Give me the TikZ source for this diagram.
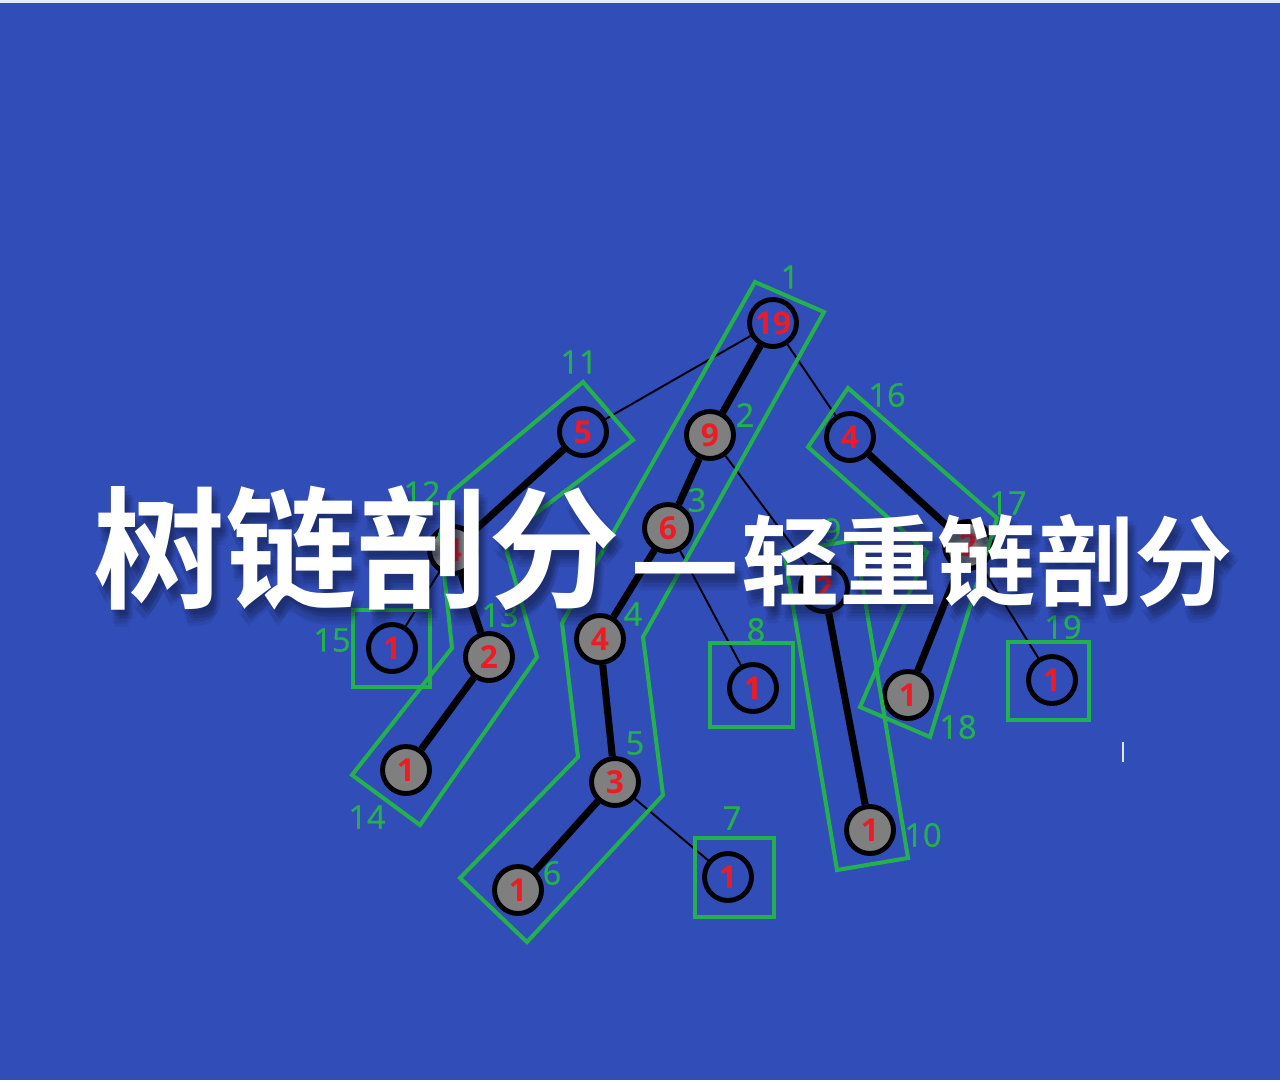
\documentclass[tikz,border=0pt]{standalone}
\usepackage{fontspec}
\setmainfont{Open Sans}
\newfontfamily\labfont[FakeBold=0.8]{Open Sans}
\newfontfamily\cjk{Noto Sans CJK SC Bold}
\definecolor{bgblue}{RGB}{49,77,184}
\definecolor{chaingreen}{RGB}{34,177,76}
\definecolor{numred}{RGB}{237,28,36}
\definecolor{nodegray}{RGB}{127,127,127}
\newcommand{\titlestr}{{\fontsize{75}{75}\selectfont 树链剖分}\hspace{0.18cm}\raisebox{-0.1cm}{\fontsize{70}{70}\selectfont —}{\fontsize{56}{56}\selectfont 轻重链剖分}}

\begin{document}
\begin{tikzpicture}[x=0.02cm,y=-0.02cm,
  vtx/.style={circle,draw=black,line width=2.8pt,minimum size=0.94cm,inner sep=0pt,
    text=numred,font=\fontsize{18}{18}\selectfont\bfseries},
  heavyv/.style={vtx,fill=nodegray},
  lightv/.style={vtx},
  heavy/.style={line width=4pt},
  light/.style={line width=1.1pt},
  chain/.style={draw=chaingreen,line width=2.3pt,line join=miter},
  idx/.style={text=chaingreen,font=\labfont\fontsize{18.5}{18.5}\selectfont,inner sep=0pt},
  titlebase/.style={anchor=base west,inner sep=0pt,font=\cjk}]
\fill[bgblue] (0,0) rectangle (1280,1080);
\useasboundingbox (0,0) rectangle (1280,1080);
\fill[white!88!bgblue] (0,0) rectangle (1280,3);

% vertices, value = subtree size
\node[lightv] (a) at (773,323) {19};
\node[heavyv] (b) at (710,435) {9};
\node[heavyv] (c) at (668,528) {6};
\node[heavyv] (d) at (600,639) {4};
\node[heavyv] (e) at (615,782) {3};
\node[heavyv] (f) at (518,890) {1};
\node[lightv] (g) at (728,877) {1};
\node[lightv] (h) at (753,688) {1};
\node[lightv] (i) at (824,588) {2};
\node[heavyv] (j) at (870,830) {1};
\node[lightv] (k) at (583,432) {5};
\node[heavyv] (l) at (453,550) {4};
\node[heavyv] (m) at (489,657) {2};
\node[heavyv] (n) at (406,770) {1};
\node[lightv] (o) at (392,648) {1};
\node[lightv] (p) at (850,437) {4};
\node[heavyv] (q) at (968,545) {2};
\node[heavyv] (r) at (908,695) {1};
\node[lightv] (s) at (1052,680) {1};

% heavy edges
\draw[heavy] (a) -- (b) (b) -- (c) (c) -- (d) (d) -- (e) (e) -- (f);
\draw[heavy] (k) -- (l) (l) -- (m) (m) -- (n);
\draw[heavy] (p) -- (q) (q) -- (r);
\draw[heavy] (i) -- (j);
% light edges
\draw[light] (a) -- (k) (a) -- (p) (b) -- (i) (c) -- (h) (e) -- (g) (l) -- (o) (q) -- (s);

% chains
\draw[chain] (755,282) -- (824,312) -- (643,637) -- (663,795) -- (527,942)
  -- (460,878) -- (578,757) -- (562,623) -- cycle;
\draw[chain] (583,382) -- (633,440) -- (503,538) -- (537,657) -- (420,825)
  -- (352,775) -- (452,648) -- (440,535) -- (450,493) -- cycle;
\draw[chain] (848,388) -- (997,518) -- (930,737) -- (860,707) -- (927,552)
  -- (808,447) -- cycle;
\draw[chain] (784,552) -- (855,540) -- (908,858) -- (837,870) -- cycle;
\draw[chain] (353,610) rectangle (430,687);
\draw[chain] (710,643) rectangle (793,727);
\draw[chain] (695,838) rectangle (774,917);
\draw[chain] (1008,642) rectangle (1089,720);

% dfs order
\node[idx] (n1) at (790,277) {1};
\node[idx] (n2) at (745,415) {2};
\node[idx] (n3) at (697,500) {3};
\node[idx] (n4) at (633,614) {4};
\node[idx] (n5) at (635,743) {5};
\node[idx] (n6) at (552,873) {6};
\node[idx] (n7) at (732,818) {7};
\node[idx] (n8) at (756,630) {8};
\node[idx] (n9) at (832,530) {9};
\node[idx] (n10) at (923,835) {10};
\node[idx] (n11) at (579,362) {11};
\node[idx] (n12) at (422,493) {12};
\node[idx] (n13) at (500,615) {13};
\node[idx] (n14) at (367,817) {14};
\node[idx] (n15) at (332,640) {15};
\node[idx] (n16) at (887,395) {16};
\node[idx] (n17) at (1008,503) {17};
\node[idx] (n18) at (958,727) {18};
\node[idx] (n19) at (1063,627) {19};

\draw[white!85!bgblue,line width=0.6pt] (1123,742) -- (1123,762);

% title
\foreach \dx/\dy in {1/3,3/6,5/9,7/12,2/14,6/5,9/9,4/17}
  \node[titlebase,text=black!70!bgblue,opacity=0.09] at (93+\dx,598+\dy) {\titlestr};
\node[titlebase,text=white] (title) at (93,598) {\titlestr};
\end{tikzpicture}
\end{document}
